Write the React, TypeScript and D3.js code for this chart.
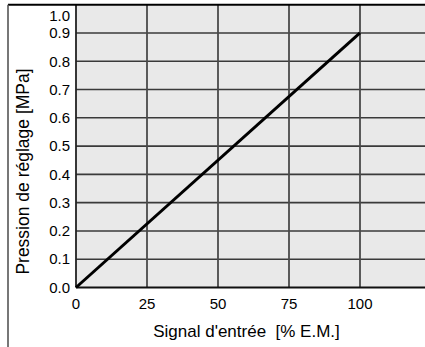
import React from "react";
import * as d3 from "d3";

const signal = [0, 100];
const pressure = [0, 0.9];
const xTicks = [0, 25, 50, 75, 100];
const yTicks = [0, 0.1, 0.2, 0.3, 0.4, 0.5, 0.6, 0.7, 0.8, 0.9, 1.0];
const xTitle = "Signal d'entrée\u00a0\u00a0[% E.M.]";
const yTitle = "Pression de réglage [MPa]";

const W = 425;
const H = 347;

export default function App() {
  const x = d3.scaleLinear().domain([0, 100]).range([76, 360]);
  const y = d3.scaleLinear().domain([0, 1]).range([287.5, 4.7]);
  const xEnd = W + 2;
  const line = d3
    .line<number>()
    .x((_, i) => x(signal[i]))
    .y((d) => y(d));
  const font = "'Liberation Sans', Arial, Helvetica, sans-serif";
  return (
    <svg
      width={W}
      height={H}
      style={{ position: "absolute", left: 0, top: 0, background: "#fff" }}
      fontFamily={font}
    >
      <rect x={x(0)} y={y(1)} width={xEnd - x(0)} height={y(0) - y(1)} fill="#e9e9e9" />
      {yTicks.slice(1, -1).map((t) => (
        <line key={"h" + t} x1={x(0)} x2={xEnd} y1={y(t)} y2={y(t)} stroke="#3a3a3a" strokeWidth={1.6} />
      ))}
      {xTicks.slice(1).map((t) => (
        <line key={"v" + t} x1={x(t)} x2={x(t)} y1={y(1)} y2={y(0)} stroke="#4a4a4a" strokeWidth={1.8} />
      ))}
      <line x1={x(0)} x2={x(0)} y1={y(1)} y2={y(0)} stroke="#222" strokeWidth={1.8} />
      <line x1={x(0)} x2={xEnd} y1={y(0)} y2={y(0)} stroke="#111" strokeWidth={1.8} />
      <line x1={8} x2={xEnd} y1={y(1)} y2={y(1)} stroke="#000" strokeWidth={2} />
      <line x1={8} x2={8} y1={y(1)} y2={H} stroke="#555" strokeWidth={1.6} />
      <path d={line(pressure) || ""} fill="none" stroke="#000" strokeWidth={3} />
      {yTicks.map((t) => (
        <text
          key={"yl" + t}
          x={70}
          y={y(t) + (t === 1 ? 11 : 0)}
          dy="0.35em"
          textAnchor="end"
          fontSize={15}
          fill="#000"
        >
          {t.toFixed(1)}
        </text>
      ))}
      {xTicks.map((t) => (
        <text key={"xl" + t} x={x(t)} y={309} textAnchor="middle" fontSize={15} fill="#000">
          {t}
        </text>
      ))}
      <text x={246.5} y={337} textAnchor="middle" fontSize={17} fill="#000">
        {xTitle}
      </text>
      <text
        transform={`translate(28.5,171.5) rotate(-90)`}
        textAnchor="middle"
        fontSize={17.5}
        fill="#000"
      >
        {yTitle}
      </text>
    </svg>
  );
}
